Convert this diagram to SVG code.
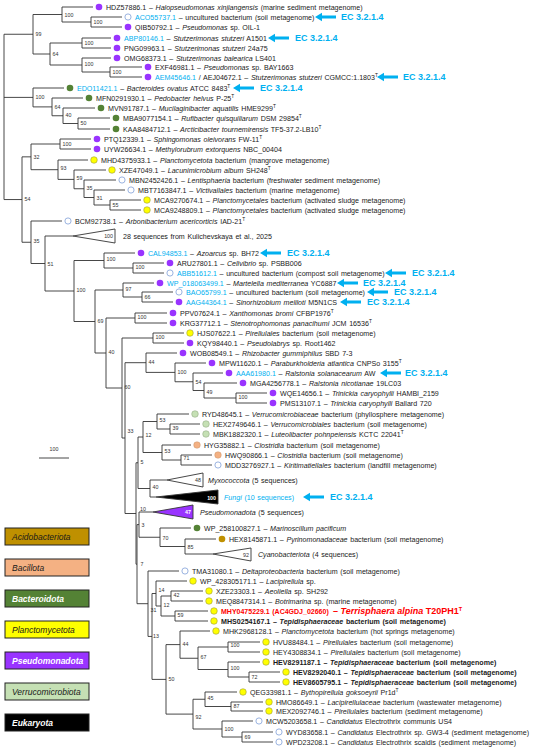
<svg xmlns="http://www.w3.org/2000/svg" width="550" height="750" viewBox="0 0 550 750">
<style>
text{font-family:"Liberation Sans",Arial,sans-serif;font-size:7.1px;word-spacing:0.7px;fill:#1a1a1a}
.i{font-style:italic}
.b{font-weight:bold;font-size:7.1px}
.a{fill:#00B0F0}
.ec{fill:#00B0F0;font-weight:bold;font-size:9px;word-spacing:0}
.bs{font-size:5.3px;fill:#333}
.sup{font-size:4.8px}
.e{fill:none;stroke:#333;stroke-width:0.9}
.dp{fill:#9933FF}
.dg{fill:#548235}
.dy{fill:#FFFF00;stroke:#8a8a3a;stroke-width:0.5}
.dl{fill:#C5E0B4;stroke:#8aa07a;stroke-width:0.5}
.ds{fill:#F4B183;stroke:#c08a60;stroke-width:0.4}
.do{fill:#BF9000}
.dn{fill:#fff;stroke:#8FAADC;stroke-width:0.9}
.lg{stroke:#222;stroke-width:1}
.lt{font-size:8.5px;font-style:italic}
.lw{font-size:8.5px;font-style:italic;font-weight:bold;fill:#fff}
.tri{stroke:#333;stroke-width:0.9}
</style>
<defs>
<path id="arr" d="M0 0L7 -4.2L7 -1.6L21 -1.6L21 1.6L7 1.6L7 4.2Z" fill="#00B0F0"/>
</defs>

<g id="connectors">
<path class="e" d="M4 34.25V199.55M4 34.25H33M4 97.4H33M4 199.55H22
M33 14.5V54M33 14.5H62M33 54H50
M62 7V22M62 7H93M62 22H91
M91 17V27M91 17H122M91 27H122
M50 43V65M50 43H82M50 65H82
M82 38V48M82 38H111M82 48H111
M82 58V72M82 58H111M82 72H110
M110 67V77M110 67H142M110 77H142
M33 88V106.9M33 88H64M33 106.9H52
M52 98V115.75M52 98H83M52 115.75H63
M63 108V123.5M63 108H95M63 123.5H78
M78 118V129M78 118H110M78 129H110
M22 156.85V242.25M22 156.85H31M22 242.25H31
M31 144V169.7M31 144H60M31 169.7H58
M60 139V149M60 139H91M60 149H91
M58 160V179.4M58 160H88M58 179.4H74
M74 170V188.75M74 170H106M74 188.75H84
M84 180V197.5M84 180H116M84 197.5H94
M94 190V205M94 190H125M94 205H110
M110 200V210M110 200H141M110 210H141
M31 221V263.5M31 221H62M31 263.5H45
M45 236V291M45 236H73M45 291H74
M74 260.5V321.5M74 260.5H104M74 321.5H95
M104 253V268M104 253H135M104 268H133
M133 263V273M133 263H164M133 273H164
M95 290V353M95 290H123M95 353H106
M123 283V297M123 283H154M123 297H142
M142 292V302M142 292H173M142 302H173
M106 318V388M106 318H135M106 388H122
M135 313V323M135 313H167M135 323H167
M122 338V438M122 338H153M122 438H125
M153 333V343M153 333H184M153 343H184
M125 362.7V513.5M125 362.7H146M125 513.5H136
M146 353V372.4M146 353H177M146 372.4H175
M175 363V381.75M175 363H206M175 381.75H193
M193 373V390.5M193 373H223M193 390.5H204
M204 383V398M204 383H237M204 398H236
M236 393V403M236 393H267M236 403H267
M136 462.75V564.2M136 462.75H138M136 564.2H137
M138 437V488.5M138 437H143M138 488.5H150
M143 421.5V452.5M143 421.5H157M143 452.5H162
M157 414V429M157 414H189M157 429H170
M170 424V434M170 424H200M170 434H200
M162 445V460M162 445H191M162 460H181
M181 455V465M181 455H212M181 465H212
M150 480V497M150 480H167M150 497H156
M137 524.6V603.7M137 524.6H139M137 603.7H148
M139 512V537.25M139 512H153M139 537.25H160
M160 528V546.5M160 528H191M160 546.5H185
M185 539V554M185 539H216M185 554H213
M148 571V636.45M148 571H179M148 636.45H152
M152 593.5V679.4M152 593.5H156M152 679.4H166
M156 581V606M156 581H187M156 606H161
M161 596V616M161 596H171M161 616H175
M171 591V601M171 591H203M171 601H203
M175 611V621M175 611H208M175 621H208
M166 644.6V714.1M166 644.6H180M166 714.1H193
M180 631V658.25M180 631H210M180 658.25H198
M198 647V669.5M198 647H228M198 669.5H228
M228 642V652M228 642H260M228 652H260
M228 662V677M228 662H260M228 677H249
M249 672V682M249 672H280M249 682H280
M193 699.25V729M193 699.25H205M193 729H222
M205 692V706.5M205 692H237M205 706.5H231
M231 702V711M231 702H263M231 711H263
M222 721V737M222 721H253M222 737H242
M242 732V742M242 732H273M242 742H273"/>
</g>

<g id="bootstrap">
<text class="bs" x="64.5" y="16.5">100</text>
<text class="bs" x="93.5" y="24">100</text>
<text class="bs" x="35.5" y="36">99</text>
<text class="bs" x="84.5" y="45">100</text>
<text class="bs" x="52.5" y="56">64</text>
<text class="bs" x="84.5" y="66">100</text>
<text class="bs" x="112.5" y="74">100</text>
<text class="bs" x="35.5" y="99">100</text>
<text class="bs" x="54.5" y="109">64</text>
<text class="bs" x="65.5" y="117">40</text>
<text class="bs" x="80.5" y="125">50</text>
<text class="bs" x="62.5" y="146">100</text>
<text class="bs" x="33.5" y="159">32</text>
<text class="bs" x="60.5" y="170">93</text>
<text class="bs" x="76.5" y="180">59</text>
<text class="bs" x="86.5" y="190">35</text>
<text class="bs" x="96.5" y="200">31</text>
<text class="bs" x="112.5" y="207">55</text>
<text class="bs" x="24.5" y="201">54</text>
<text class="bs" x="33.5" y="243">35</text>
<text class="bs" x="47.5" y="266">51</text>
<text class="bs" x="106.5" y="261">100</text>
<text class="bs" x="135.5" y="269">100</text>
<text class="bs" x="76.5" y="292">100</text>
<text class="bs" x="125.5" y="291">97</text>
<text class="bs" x="144.5" y="299">66</text>
<text class="bs" x="137.5" y="319">100</text>
<text class="bs" x="97.5" y="323">69</text>
<text class="bs" x="155.5" y="339">100</text>
<text class="bs" x="108.5" y="354">40</text>
<text class="bs" x="148.5" y="364">44</text>
<text class="bs" x="177.5" y="374">100</text>
<text class="bs" x="195.5" y="384">54</text>
<text class="bs" x="206.5" y="394">49</text>
<text class="bs" x="238.5" y="399">100</text>
<text class="bs" x="124.5" y="389">60</text>
<text class="bs" x="159.5" y="422">53</text>
<text class="bs" x="172.5" y="430">39</text>
<text class="bs" x="127.5" y="433">33</text>
<text class="bs" x="145.5" y="437">12</text>
<text class="bs" x="164.5" y="453">53</text>
<text class="bs" x="183.5" y="460">71</text>
<text class="bs" x="140.5" y="464">5</text>
<text class="bs" x="152.5" y="489">40</text>
<text class="bs" x="140" y="511">10</text>
<text class="bs" x="141.5" y="527">3</text>
<text class="bs" x="162.5" y="540">70</text>
<text class="bs" x="187.5" y="549">85</text>
<text class="bs" x="140.5" y="566">7</text>
<text class="bs" x="158.5" y="592">14</text>
<text class="bs" x="173.5" y="597">42</text>
<text class="bs" x="163.5" y="607">12</text>
<text class="bs" x="150.5" y="612">31</text>
<text class="bs" x="177.5" y="617">59</text>
<text class="bs" x="153" y="638">13</text>
<text class="bs" x="182.5" y="646">44</text>
<text class="bs" x="230.5" y="647">100</text>
<text class="bs" x="200.5" y="659">67</text>
<text class="bs" x="230.5" y="670">100</text>
<text class="bs" x="251.5" y="679">72</text>
<text class="bs" x="168.5" y="681">50</text>
<text class="bs" x="207.5" y="700">45</text>
<text class="bs" x="233.5" y="708">87</text>
<text class="bs" x="195.5" y="719">92</text>
<text class="bs" x="224.5" y="731">100</text>
<text class="bs" x="244.5" y="739">69</text>
</g>

<g id="HDZ57886"><circle class="dp" cx="99" cy="7" r="3.3"/><text x="106" y="9.6">HDZ57886.1 – <tspan class="i">Halopseudomonas xinjiangensis</tspan> (marine sediment metagenome)</text></g>
<g id="ACO55737"><circle class="dn" cx="128" cy="17" r="3.1"/><text x="135" y="19.6"><tspan class="a">ACO55737.1</tspan> – uncultured bacterium (soil metagenome)</text><use href="#arr" x="315" y="17"/><text class="ec" x="341" y="20.3">EC 3.2.1.4</text></g>
<g id="QIB50792"><circle class="dp" cx="128" cy="27" r="3.3"/><text x="135" y="29.6">QIB50792.1 – <tspan class="i">Pseudomonas</tspan> sp. OIL-1</text></g>
<g id="ABP80146"><circle class="dp" cx="117" cy="38" r="3.3"/><text x="124" y="40.6"><tspan class="a">ABP80146.1</tspan> – <tspan class="i">Stutzerimonas stutzeri</tspan> A1501</text><use href="#arr" x="268" y="38"/><text class="ec" x="295" y="41.3">EC 3.2.1.4</text></g>
<g id="PNG09963"><circle class="dp" cx="117" cy="48" r="3.3"/><text x="124" y="50.6">PNG09963.1 – <tspan class="i">Stutzerimonas stutzeri</tspan> 24a75</text></g>
<g id="OMG68373"><circle class="dp" cx="117" cy="58" r="3.3"/><text x="124" y="60.6">OMG68373.1 – <tspan class="i">Stutzerimonas balearica</tspan> LS401</text></g>
<g id="EXF46981"><circle class="dp" cx="148" cy="67" r="3.3"/><text x="155" y="69.6">EXF46981.1 – <tspan class="i">Pseudomonas</tspan> sp. BAY1663</text></g>
<g id="AEM45646"><circle class="dp" cx="148" cy="77" r="3.3"/><text x="155" y="79.6"><tspan class="a">AEM45646.1</tspan> / AEJ04672.1 – <tspan class="i">Stutzerimonas stutzeri</tspan> CGMCC:1.1803<tspan class="sup" dy="-2.5">T</tspan></text><use href="#arr" x="377" y="77"/><text class="ec" x="403" y="80.3">EC 3.2.1.4</text></g>
<g id="EDO11421"><circle class="dg" cx="70" cy="88" r="3.3"/><text x="77" y="90.6"><tspan class="a">EDO11421.1</tspan> – <tspan class="i">Bacteroides ovatus</tspan> ATCC 8483<tspan class="sup" dy="-2.5">T</tspan></text><use href="#arr" x="233" y="88"/><text class="ec" x="260" y="91.3">EC 3.2.1.4</text></g>
<g id="MFN0291930"><circle class="dg" cx="89" cy="98" r="3.3"/><text x="96" y="100.6">MFN0291930.1 – <tspan class="i">Pedobacter helvus</tspan> P-25<tspan class="sup" dy="-2.5">T</tspan></text></g>
<g id="MVN91787"><circle class="dg" cx="101" cy="108" r="3.3"/><text x="108" y="110.6">MVN91787.1 – <tspan class="i">Mucilaginibacter aquatilis</tspan> HME9299<tspan class="sup" dy="-2.5">T</tspan></text></g>
<g id="MBA9077154"><circle class="dg" cx="116" cy="118" r="3.3"/><text x="123" y="120.6">MBA9077154.1 – <tspan class="i">Rufibacter quisquiliarum</tspan> DSM 29854<tspan class="sup" dy="-2.5">T</tspan></text></g>
<g id="KAA8484712"><circle class="dg" cx="116" cy="129" r="3.3"/><text x="123" y="131.6">KAA8484712.1 – <tspan class="i">Arcticibacter tournemirensis</tspan> TF5-37.2-LB10<tspan class="sup" dy="-2.5">T</tspan></text></g>
<g id="PTQ12339"><circle class="dp" cx="97" cy="139" r="3.3"/><text x="104" y="141.6">PTQ12339.1 – <tspan class="i">Sphingomonas oleivorans</tspan> FW-11<tspan class="sup" dy="-2.5">T</tspan></text></g>
<g id="UYW26634"><circle class="dp" cx="97" cy="149" r="3.3"/><text x="104" y="151.6">UYW26634.1 – <tspan class="i">Methylorubrum extorquens</tspan> NBC_00404</text></g>
<g id="MHD4375933"><circle class="dy" cx="94" cy="160" r="3.3"/><text x="101" y="162.6">MHD4375933.1 – <tspan class="i">Planctomycetota</tspan> bacterium (mangrove metagenome)</text></g>
<g id="XZE47049"><circle class="dy" cx="112" cy="170" r="3.3"/><text x="119" y="172.6">XZE47049.1 – <tspan class="i">Lacunimicrobium album</tspan> SH248<tspan class="sup" dy="-2.5">T</tspan></text></g>
<g id="MBN2452426"><circle class="dn" cx="122" cy="180" r="3.1"/><text x="129" y="182.6">MBN2452426.1 – <tspan class="i">Lentisphaeria</tspan> bacterium (freshwater sediment metagenome)</text></g>
<g id="MBT7163847"><circle class="dn" cx="131" cy="190" r="3.1"/><text x="138" y="192.6">MBT7163847.1 – <tspan class="i">Victivallales</tspan> bacterium (marine metagenome)</text></g>
<g id="MCA9270674"><circle class="dy" cx="147" cy="200" r="3.3"/><text x="154" y="202.6">MCA9270674.1 – <tspan class="i">Planctomycetales</tspan> bacterium (activated sludge metagenome)</text></g>
<g id="MCA9248809"><circle class="dy" cx="147" cy="210" r="3.3"/><text x="154" y="212.6">MCA9248809.1 – <tspan class="i">Planctomycetales</tspan> bacterium (activated sludge metagenome)</text></g>
<g id="BCM92738"><circle class="dn" cx="68" cy="221" r="3.1"/><text x="75" y="223.6">BCM92738.1 – <tspan class="i">Arbonibacterium acericorticis</tspan> IAD-21<tspan class="sup" dy="-2.5">T</tspan></text></g>
<g id="kulichevskaya"><polygon class="tri" points="73,236 115,229 115,243" fill="#fff"/><text class="bs" x="113" y="238" text-anchor="end">100</text><text x="123" y="238.6">28 sequences from Kulichevskaya et al., 2025</text></g>
<g id="CAL94853"><circle class="dp" cx="141" cy="253" r="3.3"/><text x="148" y="255.6"><tspan class="a">CAL94853.1</tspan> – <tspan class="i">Azoarcus</tspan> sp. BH72</text><use href="#arr" x="260" y="253"/><text class="ec" x="287" y="256.3">EC 3.2.1.4</text></g>
<g id="ARU27801"><circle class="dp" cx="170" cy="263" r="3.3"/><text x="177" y="265.6">ARU27801.1 – <tspan class="i">Cellvibrio</tspan> sp. PSBB006</text></g>
<g id="ABB51612"><circle class="dn" cx="170" cy="273" r="3.1"/><text x="177" y="275.6"><tspan class="a">ABB51612.1</tspan> – uncultured bacterium (compost soil metagenome)</text><use href="#arr" x="385" y="273"/><text class="ec" x="412" y="276.3">EC 3.2.1.4</text></g>
<g id="WP_018063499"><circle class="dp" cx="160" cy="283" r="3.3"/><text x="167" y="285.6"><tspan class="a">WP_018063499.1</tspan> – <tspan class="i">Martelella mediterranea</tspan> YC6887</text><use href="#arr" x="337" y="283"/><text class="ec" x="363" y="286.3">EC 3.2.1.4</text></g>
<g id="BAO65799"><circle class="dn" cx="179" cy="292" r="3.1"/><text x="186" y="294.6"><tspan class="a">BAO65799.1</tspan> – uncultured bacterium (soil metagenome)</text><use href="#arr" x="367" y="292"/><text class="ec" x="394" y="295.3">EC 3.2.1.4</text></g>
<g id="AAG44364"><circle class="dp" cx="179" cy="302" r="3.3"/><text x="186" y="304.6"><tspan class="a">AAG44364.1</tspan> – <tspan class="i">Sinorhizobium meliloti</tspan> M5N1CS</text><use href="#arr" x="340" y="302"/><text class="ec" x="367" y="305.3">EC 3.2.1.4</text></g>
<g id="PPV07624"><circle class="dp" cx="173" cy="313" r="3.3"/><text x="180" y="315.6">PPV07624.1 – <tspan class="i">Xanthomonas bromi</tspan> CFBP1976<tspan class="sup" dy="-2.5">T</tspan></text></g>
<g id="KRG37712"><circle class="dp" cx="173" cy="323" r="3.3"/><text x="180" y="325.6">KRG37712.1 – <tspan class="i">Stenotrophomonas panacihumi</tspan> JCM 16536<tspan class="sup" dy="-2.5">T</tspan></text></g>
<g id="HJS07622"><circle class="dy" cx="190" cy="333" r="3.3"/><text x="197" y="335.6">HJS07622.1 – <tspan class="i">Pirellulales</tspan> bacterium (soil metagenome)</text></g>
<g id="KQY98440"><circle class="dp" cx="190" cy="343" r="3.3"/><text x="197" y="345.6">KQY98440.1 – <tspan class="i">Pseudolabrys</tspan> sp. Root1462</text></g>
<g id="WOB08549"><circle class="dp" cx="183" cy="353" r="3.3"/><text x="190" y="355.6">WOB08549.1 – <tspan class="i">Rhizobacter gummiphilus</tspan> SBD 7-3</text></g>
<g id="MPW11620"><circle class="dp" cx="212" cy="363" r="3.3"/><text x="219" y="365.6">MPW11620.1 – <tspan class="i">Paraburkholderia atlantica</tspan> CNPSo 3155<tspan class="sup" dy="-2.5">T</tspan></text></g>
<g id="AAA61980"><circle class="dp" cx="229" cy="373" r="3.3"/><text x="236" y="375.6"><tspan class="a">AAA61980.1</tspan> – <tspan class="i">Ralstonia solanacearum</tspan> AW</text><use href="#arr" x="380" y="373"/><text class="ec" x="405" y="376.3">EC 3.2.1.4</text></g>
<g id="MGA4256778"><circle class="dp" cx="243" cy="383" r="3.3"/><text x="250" y="385.6">MGA4256778.1 – <tspan class="i">Ralstonia nicotianae</tspan> 19LC03</text></g>
<g id="WQE14656"><circle class="dp" cx="273" cy="393" r="3.3"/><text x="280" y="395.6">WQE14656.1 – <tspan class="i">Trinickia caryophylli</tspan> HAMBI_2159</text></g>
<g id="PMS13107"><circle class="dp" cx="273" cy="403" r="3.3"/><text x="280" y="405.6">PMS13107.1 – <tspan class="i">Trinickia caryophylli</tspan> Ballard 720</text></g>
<g id="RYD48645"><circle class="dl" cx="195" cy="414" r="3.3"/><text x="202" y="416.6">RYD48645.1 – <tspan class="i">Verrucomicrobiaceae</tspan> bacterium (phyllosphere metagenome)</text></g>
<g id="HEX2749646"><circle class="dl" cx="206" cy="424" r="3.3"/><text x="213" y="426.6">HEX2749646.1 – <tspan class="i">Verrucomicrobiales</tspan> bacterium (soil metagenome)</text></g>
<g id="MBK1882320"><circle class="dl" cx="206" cy="434" r="3.3"/><text x="213" y="436.6">MBK1882320.1 – <tspan class="i">Luteolibacter pohnpeiensis</tspan> KCTC 22041<tspan class="sup" dy="-2.5">T</tspan></text></g>
<g id="HYG35882"><circle class="ds" cx="197" cy="445" r="3.3"/><text x="204" y="447.6">HYG35882.1 – <tspan class="i">Clostridia</tspan> bacterium (soil metagenome)</text></g>
<g id="HWQ90866"><circle class="ds" cx="218" cy="455" r="3.3"/><text x="225" y="457.6">HWQ90866.1 – <tspan class="i">Clostridia</tspan> bacterium (soil metagenome)</text></g>
<g id="MDD3276927"><circle class="dn" cx="218" cy="465" r="3.1"/><text x="225" y="467.6">MDD3276927.1 – <tspan class="i">Kiritimatiellales</tspan> bacterium (landfill metagenome)</text></g>
<g id="myxococcota"><polygon class="tri" points="167,480 203,473 203,487" fill="#fff"/><text class="bs" x="201" y="482" text-anchor="end">48</text><text x="208" y="482.6"><tspan class="i">Myxococcota</tspan> (5 sequences)</text></g>
<g id="fungi"><polygon class="tri" points="156,497 218,490 218,504" fill="#000"/><text class="bs" x="216" y="499.5" text-anchor="end" style="fill:#fff;font-weight:bold">100</text><text x="224" y="499.6" style="fill:#00B0F0"><tspan class="i">Fungi</tspan> (10 sequences)</text><use href="#arr" x="303" y="497"/><text class="ec" x="330" y="500.3">EC 3.2.1.4</text></g>
<g id="pseudomonadota"><polygon class="tri" points="153,512 193,505 193,519" fill="#9933FF"/><text class="bs" x="191" y="514" text-anchor="end" style="fill:#fff;font-weight:bold">47</text><text x="200" y="514.6"><tspan class="i">Pseudomonadota</tspan> (5 sequences)</text></g>
<g id="WP_258100827"><circle class="dg" cx="197" cy="528" r="3.3"/><text x="204" y="530.6">WP_258100827.1 – <tspan class="i">Marinoscillum pacificum</tspan></text></g>
<g id="HEX8145871"><circle class="do" cx="222" cy="539" r="3.3"/><text x="229" y="541.6">HEX8145871.1 – <tspan class="i">Pyrinomonadaceae</tspan> bacterium (soil metagenome)</text></g>
<g id="cyanobacteriota"><polygon class="tri" points="213,554 251,548 251,561" fill="#fff"/><text class="bs" x="249" y="556.5" text-anchor="end">92</text><text x="258" y="556.6"><tspan class="i">Cyanobacteriota</tspan> (4 sequences)</text></g>
<g id="TMA31080"><circle class="dn" cx="185" cy="571" r="3.1"/><text x="192" y="573.6">TMA31080.1 – <tspan class="i">Deltaproteobacteria</tspan> bacterium (soil metagenome)</text></g>
<g id="WP_428305171"><circle class="dy" cx="193" cy="581" r="3.3"/><text x="200" y="583.6">WP_428305171.1 – <tspan class="i">Lacipirellula</tspan> sp.</text></g>
<g id="XZE23303"><circle class="dy" cx="209" cy="591" r="3.3"/><text x="216" y="593.6">XZE23303.1 – <tspan class="i">Aeoliella</tspan> sp. SH292</text></g>
<g id="MEQ8847314"><circle class="dy" cx="209" cy="601" r="3.3"/><text x="216" y="603.6">MEQ8847314.1 – <tspan class="i">Botrimarina</tspan> sp. (marine metagenome)</text></g>
<g id="MHY0475229"><circle class="dy" cx="214" cy="611" r="3.3"/><text x="221" y="613.5" style="fill:#FF0000;font-weight:bold;font-size:7px">MHY0475229.1  (AC4GDJ_02660)</text><text x="333" y="614.2" style="fill:#FF0000;font-weight:bold;font-size:9px;word-spacing:0">– <tspan class="i">Terrisphaera alpina</tspan> T20PH1<tspan dy="-3.2" style="font-size:5.5px">T</tspan></text></g>
<g id="MHS0254167"><circle class="dy" cx="214" cy="621" r="3.3"/><text x="221" y="623.5" class="b">MHS0254167.1 – <tspan class="i">Tepidisphaeraceae</tspan> bacterium (soil metagenome)</text></g>
<g id="MHK2968128"><circle class="dy" cx="216" cy="631" r="3.3"/><text x="223" y="633.6">MHK2968128.1 – <tspan class="i">Planctomycetota</tspan> bacterium (hot springs metagenome)</text></g>
<g id="HVU88484"><circle class="dy" cx="266" cy="642" r="3.3"/><text x="273" y="644.6">HVU88484.1 – <tspan class="i">Pirellulales</tspan> bacterium (soil metagenome)</text></g>
<g id="HEY4308834"><circle class="dy" cx="266" cy="652" r="3.3"/><text x="273" y="654.6">HEY4308834.1 – <tspan class="i">Pirellulales</tspan> bacterium (soil metagenome)</text></g>
<g id="HEV8291187"><circle class="dy" cx="266" cy="662" r="3.3"/><text x="273" y="664.5" class="b">HEV8291187.1 – <tspan class="i">Tepidisphaeraceae</tspan> bacterium (soil metagenome)</text></g>
<g id="HEV8292040"><circle class="dy" cx="286" cy="672" r="3.3"/><text x="293" y="674.5" class="b">HEV8292040.1 – <tspan class="i">Tepidisphaeraceae</tspan> bacterium (soil metagenome)</text></g>
<g id="HEV8605795"><circle class="dy" cx="286" cy="682" r="3.3"/><text x="293" y="684.5" class="b">HEV8605795.1 – <tspan class="i">Tepidisphaeraceae</tspan> bacterium (soil metagenome)</text></g>
<g id="QEG33981"><circle class="dy" cx="243" cy="692" r="3.3"/><text x="250" y="694.6">QEG33981.1 – <tspan class="i">Bythopirellula goksoeyrii</tspan> Pr1d<tspan class="sup" dy="-2.5">T</tspan></text></g>
<g id="HMO86649"><circle class="dy" cx="269" cy="702" r="3.3"/><text x="276" y="704.6">HMO86649.1 – <tspan class="i">Lacipirellulaceae</tspan> bacterium (wastewater metagenome)</text></g>
<g id="MEX2092746"><circle class="dy" cx="269" cy="711" r="3.3"/><text x="276" y="713.6">MEX2092746.1 – <tspan class="i">Pirellulales</tspan> bacterium (sediment metagenome)</text></g>
<g id="MCW5203658"><circle class="dn" cx="259" cy="721" r="3.1"/><text x="266" y="723.6">MCW5203658.1 – <tspan class="i">Candidatus</tspan> Electrothrix communis US4</text></g>
<g id="WYD83658"><circle class="dn" cx="279" cy="732" r="3.1"/><text x="286" y="734.6">WYD83658.1 – <tspan class="i">Candidatus</tspan> Electrothrix sp. GW3-4 (sediment metagenome)</text></g>
<g id="WPD23208"><circle class="dn" cx="279" cy="742" r="3.1"/><text x="286" y="744.6">WPD23208.1 – <tspan class="i">Candidatus</tspan> Electrothrix scaldis (sediment metagenome)</text></g>

<g id="scalebar"><text class="bs" x="54" y="451" text-anchor="middle">100</text><path d="M39 458H69" stroke="#333" stroke-width="0.9"/></g>

<g id="legend">
<g id="lg-acido"><rect class="lg" x="5" y="528" width="84" height="17" fill="#BF9000"/><text class="lt" x="12" y="539.5">Acidobacteriota</text></g>
<g id="lg-bacillota"><rect class="lg" x="5" y="559" width="84" height="17" fill="#F4B183"/><text class="lt" x="12" y="570.5">Bacillota</text></g>
<g id="lg-bacteroidota"><rect class="lg" x="5" y="590" width="84" height="17" fill="#548235"/><text class="lw" x="12" y="601.5">Bacteroidota</text></g>
<g id="lg-plancto"><rect class="lg" x="5" y="621" width="84" height="17" fill="#FFFF00"/><text class="lt" x="12" y="632.5">Planctomycetota</text></g>
<g id="lg-pseudo"><rect class="lg" x="5" y="652" width="84" height="17" fill="#9933FF"/><text class="lw" x="12" y="663.5">Pseudomonadota</text></g>
<g id="lg-verruco"><rect class="lg" x="5" y="683" width="84" height="17" fill="#C5E0B4"/><text class="lt" x="12" y="694.5">Verrucomicrobiota</text></g>
<g id="lg-euk"><rect class="lg" x="5" y="714" width="84" height="17" fill="#000"/><text class="lw" x="12" y="725.5">Eukaryota</text></g>
</g>
</svg>
